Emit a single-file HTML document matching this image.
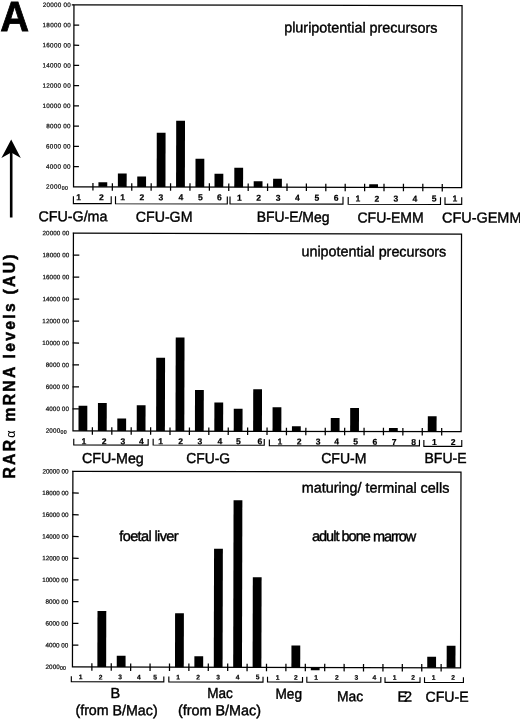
<!DOCTYPE html>
<html lang="en"><head><meta charset="utf-8"><title>Figure A - RAR alpha mRNA levels</title>
<style>html,body{margin:0;padding:0;background:#fff;}body{width:520px;height:720px;overflow:hidden;}svg{display:block;}text{font-family:"Liberation Sans", Arial, Helvetica, sans-serif;fill:#000;}.tk{font-size:6.3px;fill:#111;stroke:#111;stroke-width:0.22px;}.nb{font-size:8.6px;font-weight:bold;text-anchor:middle;stroke:#000;stroke-width:0.2px;}.ns{font-size:6.7px;font-weight:bold;text-anchor:middle;stroke:#000;stroke-width:0.2px;}.lb{font-size:14.5px;stroke:#000;stroke-width:0.4px;}.ln{stroke:#000;stroke-width:1.25;fill:none;}.br{stroke:#000;stroke-width:1.15;fill:none;}.bar{fill:#000;}</style></head><body>
<svg width="520" height="720" viewBox="0 0 520 720">
<rect x="0" y="0" width="520" height="720" fill="#fff"/>
<text x="0.3" y="30.8" textLength="28.8" lengthAdjust="spacingAndGlyphs" style="font-size:41.8px;font-weight:bold;fill:#000;stroke:#000;stroke-width:0.8px;stroke-linejoin:miter">A</text>
<path d="M11.2 139.5 L20.8 158 L11.2 152.6 L1.4 158 Z" fill="#000"/>
<rect x="9.9" y="150" width="2.6" height="67.5" fill="#000"/>
<text transform="translate(15.3,478.6) rotate(-90) scale(0.93,1)" textLength="241" lengthAdjust="spacing" style="font-size:16.9px;font-weight:bold;fill:#000;stroke:#000;stroke-width:0.5px">RAR<tspan style="font-weight:normal;stroke-width:0.1px;font-size:13.5px">α</tspan> mRNA levels (AU)</text>
<g transform="rotate(0.13 267 336)">
<rect class="ln" x="73.20" y="5.25" width="388.10" height="181.95"/>
<line class="ln" x1="71.00" y1="5.25" x2="73.20" y2="5.25"/>
<text class="tk" x="41.90" y="7.45" textLength="28.20" lengthAdjust="spacing">20000 00</text>
<line class="ln" x1="73.20" y1="25.47" x2="78.50" y2="25.47"/>
<text class="tk" x="41.90" y="27.67" textLength="28.20" lengthAdjust="spacing">18000 00</text>
<line class="ln" x1="73.20" y1="45.68" x2="78.50" y2="45.68"/>
<text class="tk" x="41.90" y="47.88" textLength="28.20" lengthAdjust="spacing">16000 00</text>
<line class="ln" x1="73.20" y1="65.90" x2="78.50" y2="65.90"/>
<text class="tk" x="41.90" y="68.10" textLength="28.20" lengthAdjust="spacing">14000 00</text>
<line class="ln" x1="73.20" y1="86.12" x2="78.50" y2="86.12"/>
<text class="tk" x="41.90" y="88.32" textLength="28.20" lengthAdjust="spacing">12000 00</text>
<line class="ln" x1="73.20" y1="106.33" x2="78.50" y2="106.33"/>
<text class="tk" x="41.90" y="108.53" textLength="28.20" lengthAdjust="spacing">10000 00</text>
<line class="ln" x1="73.20" y1="126.55" x2="78.50" y2="126.55"/>
<text class="tk" x="45.66" y="128.75" textLength="24.44" lengthAdjust="spacing">8000 00</text>
<line class="ln" x1="73.20" y1="146.77" x2="78.50" y2="146.77"/>
<text class="tk" x="45.66" y="148.97" textLength="24.44" lengthAdjust="spacing">6000 00</text>
<line class="ln" x1="73.20" y1="166.98" x2="78.50" y2="166.98"/>
<text class="tk" x="45.66" y="169.18" textLength="24.44" lengthAdjust="spacing">4000 00</text>
<text class="tk" x="45.66" y="189.20" textLength="22.00" lengthAdjust="spacing">2000<tspan style="font-size:5.2px" dy="0.9">00</tspan></text>
<line class="ln" x1="92.61" y1="183.50" x2="92.61" y2="191.00"/>
<line class="ln" x1="112.01" y1="183.50" x2="112.01" y2="191.00"/>
<line class="ln" x1="131.42" y1="183.50" x2="131.42" y2="191.00"/>
<line class="ln" x1="150.82" y1="183.50" x2="150.82" y2="191.00"/>
<line class="ln" x1="170.23" y1="183.50" x2="170.23" y2="191.00"/>
<line class="ln" x1="189.63" y1="183.50" x2="189.63" y2="191.00"/>
<line class="ln" x1="209.04" y1="183.50" x2="209.04" y2="191.00"/>
<line class="ln" x1="228.44" y1="183.50" x2="228.44" y2="191.00"/>
<line class="ln" x1="247.85" y1="183.50" x2="247.85" y2="191.00"/>
<line class="ln" x1="267.25" y1="183.50" x2="267.25" y2="191.00"/>
<line class="ln" x1="286.66" y1="183.50" x2="286.66" y2="191.00"/>
<line class="ln" x1="306.06" y1="183.50" x2="306.06" y2="191.00"/>
<line class="ln" x1="325.47" y1="183.50" x2="325.47" y2="191.00"/>
<line class="ln" x1="344.87" y1="183.50" x2="344.87" y2="191.00"/>
<line class="ln" x1="364.28" y1="183.50" x2="364.28" y2="191.00"/>
<line class="ln" x1="383.68" y1="183.50" x2="383.68" y2="191.00"/>
<line class="ln" x1="403.08" y1="183.50" x2="403.08" y2="191.00"/>
<line class="ln" x1="422.49" y1="183.50" x2="422.49" y2="191.00"/>
<line class="ln" x1="441.90" y1="183.50" x2="441.90" y2="191.00"/>
<rect class="bar" x="98.11" y="182.67" width="8.8" height="4.53"/>
<rect class="bar" x="117.51" y="173.83" width="8.8" height="13.37"/>
<rect class="bar" x="136.92" y="176.79" width="8.8" height="10.41"/>
<rect class="bar" x="156.32" y="132.94" width="8.8" height="54.26"/>
<rect class="bar" x="175.73" y="121.00" width="8.8" height="66.20"/>
<rect class="bar" x="195.13" y="158.95" width="8.8" height="28.25"/>
<rect class="bar" x="214.14" y="173.91" width="8.8" height="13.29"/>
<rect class="bar" x="233.94" y="167.77" width="8.8" height="19.43"/>
<rect class="bar" x="253.35" y="181.22" width="8.8" height="5.98"/>
<rect class="bar" x="272.75" y="178.68" width="8.8" height="8.52"/>
<rect class="bar" x="368.88" y="184.06" width="8.8" height="3.14"/>
<text class="lb" x="283.5" y="32.3" textLength="153.2" lengthAdjust="spacingAndGlyphs">pluripotential precursors</text>
<rect class="ln" x="73.20" y="233.60" width="388.10" height="197.70"/>
<line class="ln" x1="72.60" y1="233.60" x2="73.20" y2="233.60"/>
<text class="tk" x="42.30" y="235.80" textLength="26.80" lengthAdjust="spacing">20000 00</text>
<line class="ln" x1="72.70" y1="255.57" x2="79.10" y2="255.57"/>
<text class="tk" x="42.30" y="257.77" textLength="26.80" lengthAdjust="spacing">18000 00</text>
<line class="ln" x1="72.70" y1="277.53" x2="79.10" y2="277.53"/>
<text class="tk" x="42.30" y="279.73" textLength="26.80" lengthAdjust="spacing">16000 00</text>
<line class="ln" x1="72.70" y1="299.50" x2="79.10" y2="299.50"/>
<text class="tk" x="42.30" y="301.70" textLength="26.80" lengthAdjust="spacing">14000 00</text>
<line class="ln" x1="72.70" y1="321.47" x2="79.10" y2="321.47"/>
<text class="tk" x="42.30" y="323.67" textLength="26.80" lengthAdjust="spacing">12000 00</text>
<line class="ln" x1="72.70" y1="343.43" x2="79.10" y2="343.43"/>
<text class="tk" x="42.30" y="345.63" textLength="26.80" lengthAdjust="spacing">10000 00</text>
<line class="ln" x1="72.70" y1="365.40" x2="79.10" y2="365.40"/>
<text class="tk" x="45.87" y="367.60" textLength="23.23" lengthAdjust="spacing">8000 00</text>
<line class="ln" x1="72.70" y1="387.37" x2="79.10" y2="387.37"/>
<text class="tk" x="45.87" y="389.57" textLength="23.23" lengthAdjust="spacing">6000 00</text>
<line class="ln" x1="72.70" y1="409.33" x2="79.10" y2="409.33"/>
<text class="tk" x="45.87" y="411.53" textLength="23.23" lengthAdjust="spacing">4000 00</text>
<text class="tk" x="45.87" y="433.30" textLength="20.90" lengthAdjust="spacing">2000<tspan style="font-size:5.2px" dy="0.9">00</tspan></text>
<line class="ln" x1="92.61" y1="427.60" x2="92.61" y2="435.10"/>
<line class="ln" x1="112.01" y1="427.60" x2="112.01" y2="435.10"/>
<line class="ln" x1="131.42" y1="427.60" x2="131.42" y2="435.10"/>
<line class="ln" x1="150.82" y1="427.60" x2="150.82" y2="435.10"/>
<line class="ln" x1="170.23" y1="427.60" x2="170.23" y2="435.10"/>
<line class="ln" x1="189.63" y1="427.60" x2="189.63" y2="435.10"/>
<line class="ln" x1="209.04" y1="427.60" x2="209.04" y2="435.10"/>
<line class="ln" x1="228.44" y1="427.60" x2="228.44" y2="435.10"/>
<line class="ln" x1="247.85" y1="427.60" x2="247.85" y2="435.10"/>
<line class="ln" x1="267.25" y1="427.60" x2="267.25" y2="435.10"/>
<line class="ln" x1="286.66" y1="427.60" x2="286.66" y2="435.10"/>
<line class="ln" x1="306.06" y1="427.60" x2="306.06" y2="435.10"/>
<line class="ln" x1="325.47" y1="427.60" x2="325.47" y2="435.10"/>
<line class="ln" x1="344.87" y1="427.60" x2="344.87" y2="435.10"/>
<line class="ln" x1="364.28" y1="427.60" x2="364.28" y2="435.10"/>
<line class="ln" x1="383.68" y1="427.60" x2="383.68" y2="435.10"/>
<line class="ln" x1="403.08" y1="427.60" x2="403.08" y2="435.10"/>
<line class="ln" x1="422.49" y1="427.60" x2="422.49" y2="435.10"/>
<line class="ln" x1="441.90" y1="427.60" x2="441.90" y2="435.10"/>
<rect class="bar" x="78.70" y="406.22" width="8.8" height="25.08"/>
<rect class="bar" x="98.11" y="403.27" width="8.8" height="28.03"/>
<rect class="bar" x="117.51" y="418.83" width="8.8" height="12.47"/>
<rect class="bar" x="136.92" y="405.58" width="8.8" height="25.72"/>
<rect class="bar" x="156.32" y="358.04" width="8.8" height="73.26"/>
<rect class="bar" x="175.73" y="337.80" width="8.8" height="93.50"/>
<rect class="bar" x="195.13" y="390.25" width="8.8" height="41.05"/>
<rect class="bar" x="214.54" y="402.71" width="8.8" height="28.59"/>
<rect class="bar" x="233.94" y="408.76" width="8.8" height="22.54"/>
<rect class="bar" x="253.35" y="389.22" width="8.8" height="42.08"/>
<rect class="bar" x="272.75" y="407.18" width="8.8" height="24.12"/>
<rect class="bar" x="292.16" y="426.23" width="8.8" height="5.07"/>
<rect class="bar" x="330.97" y="417.94" width="8.8" height="13.36"/>
<rect class="bar" x="350.37" y="407.90" width="8.8" height="23.40"/>
<rect class="bar" x="389.18" y="427.71" width="8.8" height="3.59"/>
<rect class="bar" x="427.99" y="415.92" width="8.8" height="15.38"/>
<text class="lb" x="301.3" y="256.2" textLength="144.8" lengthAdjust="spacingAndGlyphs">unipotential precursors</text>
<rect class="ln" x="73.20" y="471.70" width="388.10" height="195.70"/>
<line class="ln" x1="72.60" y1="471.70" x2="73.20" y2="471.70"/>
<text class="tk" x="42.70" y="473.90" textLength="26.20" lengthAdjust="spacing">20000 00</text>
<line class="ln" x1="72.70" y1="493.44" x2="79.10" y2="493.44"/>
<text class="tk" x="42.70" y="495.64" textLength="26.20" lengthAdjust="spacing">18000 00</text>
<line class="ln" x1="72.70" y1="515.19" x2="79.10" y2="515.19"/>
<text class="tk" x="42.70" y="517.39" textLength="26.20" lengthAdjust="spacing">16000 00</text>
<line class="ln" x1="72.70" y1="536.93" x2="79.10" y2="536.93"/>
<text class="tk" x="42.70" y="539.13" textLength="26.20" lengthAdjust="spacing">14000 00</text>
<line class="ln" x1="72.70" y1="558.68" x2="79.10" y2="558.68"/>
<text class="tk" x="42.70" y="560.88" textLength="26.20" lengthAdjust="spacing">12000 00</text>
<line class="ln" x1="72.70" y1="580.42" x2="79.10" y2="580.42"/>
<text class="tk" x="42.70" y="582.62" textLength="26.20" lengthAdjust="spacing">10000 00</text>
<line class="ln" x1="72.70" y1="602.17" x2="79.10" y2="602.17"/>
<text class="tk" x="46.19" y="604.37" textLength="22.71" lengthAdjust="spacing">8000 00</text>
<line class="ln" x1="72.70" y1="623.91" x2="79.10" y2="623.91"/>
<text class="tk" x="46.19" y="626.11" textLength="22.71" lengthAdjust="spacing">6000 00</text>
<line class="ln" x1="72.70" y1="645.66" x2="79.10" y2="645.66"/>
<text class="tk" x="46.19" y="647.86" textLength="22.71" lengthAdjust="spacing">4000 00</text>
<text class="tk" x="46.19" y="669.40" textLength="20.44" lengthAdjust="spacing">2000<tspan style="font-size:5.2px" dy="0.9">00</tspan></text>
<line class="ln" x1="92.61" y1="663.70" x2="92.61" y2="671.20"/>
<line class="ln" x1="112.01" y1="663.70" x2="112.01" y2="671.20"/>
<line class="ln" x1="131.42" y1="663.70" x2="131.42" y2="671.20"/>
<line class="ln" x1="150.82" y1="663.70" x2="150.82" y2="671.20"/>
<line class="ln" x1="170.23" y1="663.70" x2="170.23" y2="671.20"/>
<line class="ln" x1="189.63" y1="663.70" x2="189.63" y2="671.20"/>
<line class="ln" x1="209.04" y1="663.70" x2="209.04" y2="671.20"/>
<line class="ln" x1="228.44" y1="663.70" x2="228.44" y2="671.20"/>
<line class="ln" x1="247.85" y1="663.70" x2="247.85" y2="671.20"/>
<line class="ln" x1="267.25" y1="663.70" x2="267.25" y2="671.20"/>
<line class="ln" x1="286.66" y1="663.70" x2="286.66" y2="671.20"/>
<line class="ln" x1="306.06" y1="663.70" x2="306.06" y2="671.20"/>
<line class="ln" x1="325.47" y1="663.70" x2="325.47" y2="671.20"/>
<line class="ln" x1="344.87" y1="663.70" x2="344.87" y2="671.20"/>
<line class="ln" x1="364.28" y1="663.70" x2="364.28" y2="671.20"/>
<line class="ln" x1="383.68" y1="663.70" x2="383.68" y2="671.20"/>
<line class="ln" x1="403.08" y1="663.70" x2="403.08" y2="671.20"/>
<line class="ln" x1="422.49" y1="663.70" x2="422.49" y2="671.20"/>
<line class="ln" x1="441.90" y1="663.70" x2="441.90" y2="671.20"/>
<rect class="bar" x="98.11" y="611.27" width="8.8" height="56.13"/>
<rect class="bar" x="117.51" y="656.13" width="8.8" height="11.27"/>
<rect class="bar" x="175.73" y="613.50" width="8.8" height="53.90"/>
<rect class="bar" x="195.13" y="656.35" width="8.8" height="11.05"/>
<rect class="bar" x="214.54" y="548.81" width="8.8" height="118.59"/>
<rect class="bar" x="233.94" y="500.26" width="8.8" height="167.14"/>
<rect class="bar" x="253.35" y="577.32" width="8.8" height="90.08"/>
<rect class="bar" x="292.16" y="645.33" width="8.8" height="22.07"/>
<rect class="bar" x="311.56" y="667.40" width="8.8" height="2.69"/>
<rect class="bar" x="427.99" y="656.32" width="8.8" height="11.08"/>
<rect class="bar" x="447.40" y="645.28" width="8.8" height="22.12"/>
<text class="lb" x="302.1" y="492.4" textLength="147.6" lengthAdjust="spacingAndGlyphs">maturing/ terminal cells</text>
<text class="nb" x="78.3" y="200.6">1</text>
<text class="nb" x="101.2" y="200.6">2</text>
<text class="nb" x="122.4" y="200.5">1</text>
<text class="nb" x="141.6" y="200.5">2</text>
<text class="nb" x="160.5" y="200.4">3</text>
<text class="nb" x="180.6" y="200.4">4</text>
<text class="nb" x="200.0" y="200.4">5</text>
<text class="nb" x="219.2" y="200.3">6</text>
<text class="nb" x="239.2" y="200.8">1</text>
<text class="nb" x="258.4" y="200.7">2</text>
<text class="nb" x="277.9" y="200.7">3</text>
<text class="nb" x="297.2" y="200.6">4</text>
<text class="nb" x="316.7" y="200.6">5</text>
<text class="nb" x="335.9" y="200.5">6</text>
<text class="nb" x="357.7" y="201.4">1</text>
<text class="nb" x="376.7" y="201.4">2</text>
<text class="nb" x="395.7" y="201.3">3</text>
<text class="nb" x="414.7" y="201.3">4</text>
<text class="nb" x="433.9" y="201.2">5</text>
<text class="nb" x="454.7" y="201.2">1</text>
<path class="br" d="M73.1 196.6 V204.0 H110.9 V196.6"/>
<path class="br" d="M115.2 196.6 V204.1 H227.0 V196.6"/>
<path class="br" d="M229.7 196.5 V204.0 H342.7 V196.5"/>
<path class="br" d="M347.9 196.8 V204.1 H440.2 V196.8"/>
<path class="br" d="M444.7 196.8 V204.0 H461.4 V196.8"/>
<text class="lb" x="38.2" y="221.7" textLength="69.0" lengthAdjust="spacingAndGlyphs">CFU-G/ma</text>
<text class="lb" x="135.5" y="222.0" textLength="56.7" lengthAdjust="spacingAndGlyphs">CFU-GM</text>
<text class="lb" x="256.4" y="221.8" textLength="72.8" lengthAdjust="spacingAndGlyphs">BFU-E/Meg</text>
<text class="lb" x="357.2" y="222.2" textLength="66.2" lengthAdjust="spacingAndGlyphs">CFU-EMM</text>
<text class="lb" x="441.7" y="222.1" textLength="79.5" lengthAdjust="spacingAndGlyphs">CFU-GEMM</text>
<text class="nb" x="84.2" y="444.7">1</text>
<text class="nb" x="104.4" y="444.7">2</text>
<text class="nb" x="123.2" y="444.6">3</text>
<text class="nb" x="141.7" y="444.6">4</text>
<text class="nb" x="161.0" y="444.5">1</text>
<text class="nb" x="180.8" y="444.5">2</text>
<text class="nb" x="200.2" y="444.5">3</text>
<text class="nb" x="220.2" y="444.4">4</text>
<text class="nb" x="238.7" y="444.4">5</text>
<text class="nb" x="260.2" y="444.3">6</text>
<text class="nb" x="280.2" y="444.6">1</text>
<text class="nb" x="299.5" y="444.5">2</text>
<text class="nb" x="318.5" y="444.5">3</text>
<text class="nb" x="337.0" y="444.4">4</text>
<text class="nb" x="356.0" y="444.4">5</text>
<text class="nb" x="375.2" y="444.4">6</text>
<text class="nb" x="394.5" y="444.8">7</text>
<text class="nb" x="414.0" y="444.8">8</text>
<text class="nb" x="434.7" y="444.7">1</text>
<text class="nb" x="453.5" y="444.7">2</text>
<path class="br" d="M74.0 439.2 V445.4 H148.4 V439.2"/>
<path class="br" d="M153.4 439.1 V445.3 H264.5 V439.1"/>
<path class="br" d="M269.6 439.4 V445.6 H419.7 V439.4"/>
<path class="br" d="M424.1 439.6 V446.0 H462.0 V439.6"/>
<text class="lb" x="82.3" y="463.5" textLength="61.8" lengthAdjust="spacingAndGlyphs">CFU-Meg</text>
<text class="lb" x="186.6" y="463.3" textLength="43.8" lengthAdjust="spacingAndGlyphs">CFU-G</text>
<text class="lb" x="321.5" y="463.0" textLength="45.2" lengthAdjust="spacingAndGlyphs">CFU-M</text>
<text class="lb" x="424.8" y="462.7" textLength="42.0" lengthAdjust="spacingAndGlyphs">BFU-E</text>
<text class="ns" x="81.5" y="679.8">1</text>
<text class="ns" x="101.3" y="679.8">2</text>
<text class="ns" x="120.8" y="679.7">3</text>
<text class="ns" x="139.6" y="679.7">4</text>
<text class="ns" x="156.0" y="679.7">5</text>
<text class="ns" x="179.0" y="679.6">1</text>
<text class="ns" x="198.8" y="679.6">2</text>
<text class="ns" x="218.8" y="679.5">3</text>
<text class="ns" x="238.3" y="679.5">4</text>
<text class="ns" x="258.3" y="679.4">5</text>
<text class="ns" x="278.5" y="679.8">1</text>
<text class="ns" x="296.6" y="679.7">2</text>
<text class="ns" x="317.0" y="679.7">1</text>
<text class="ns" x="337.6" y="679.6">2</text>
<text class="ns" x="357.1" y="679.6">3</text>
<text class="ns" x="375.1" y="679.6">4</text>
<text class="ns" x="395.3" y="679.5">1</text>
<text class="ns" x="413.8" y="679.5">2</text>
<text class="ns" x="434.3" y="679.4">1</text>
<text class="ns" x="454.0" y="679.4">2</text>
<path class="br" d="M72.1 676.7 V682.1 H164.6 V676.7"/>
<path class="br" d="M169.6 676.8 V682.1 H263.8 V676.8"/>
<path class="br" d="M268.3 676.8 V682.0 H303.3 V676.8"/>
<path class="br" d="M307.6 676.7 V682.0 H381.6 V676.7"/>
<path class="br" d="M385.8 676.9 V682.1 H420.8 V676.9"/>
<path class="br" d="M425.3 676.9 V682.1 H464.2 V676.9"/>
<text class="lb" x="111.4" y="698.4">B</text>
<text class="lb" x="76.3" y="715.5" textLength="82.2" lengthAdjust="spacingAndGlyphs">(from B/Mac)</text>
<text class="lb" x="208.1" y="698.1" textLength="25.6" lengthAdjust="spacingAndGlyphs">Mac</text>
<text class="lb" x="178.9" y="715.3" textLength="83.0" lengthAdjust="spacingAndGlyphs">(from B/Mac)</text>
<text class="lb" x="276.3" y="698.8" textLength="26.5" lengthAdjust="spacingAndGlyphs">Meg</text>
<text class="lb" x="337.8" y="701.0" textLength="26.2" lengthAdjust="spacingAndGlyphs">Mac</text>
<text class="lb" x="398.4" y="701.2" textLength="14.6" lengthAdjust="spacing">E2</text>
<text class="lb" x="426.3" y="701.3" textLength="43.2" lengthAdjust="spacingAndGlyphs">CFU-E</text>
<text class="lb" x="119.8" y="541.3" textLength="59.2" lengthAdjust="spacing">foetal liver</text>
<text class="lb" x="312.4" y="540.9" textLength="104.4" lengthAdjust="spacing">adult bone marrow</text>
</g></svg></body></html>
